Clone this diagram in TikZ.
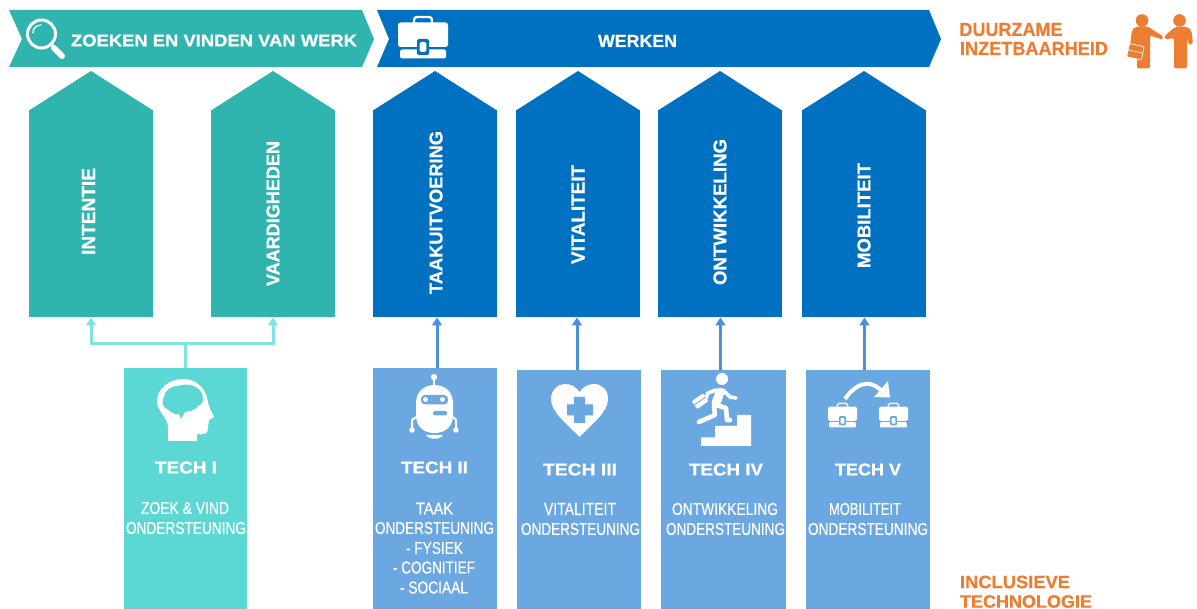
\documentclass[tikz,border=0pt]{standalone}
\usepackage{fontspec}
\setmainfont{Liberation Sans}
\newfontfamily\titlef[FakeBold=0.6]{Liberation Sans Bold}
\newfontfamily\bodyf[FakeBold=0.5]{Liberation Sans}
\usetikzlibrary{arrows.meta,calc}
\definecolor{teal1}{HTML}{2FB4AE}
\definecolor{blue1}{HTML}{0070C0}
\definecolor{teal2}{HTML}{5BD8D4}
\definecolor{blue2}{HTML}{6BA7E0}
\definecolor{tealarrow}{HTML}{7FE3DE}
\definecolor{bluearrow}{HTML}{4A90DC}
\definecolor{oranje}{HTML}{ED7D31}
\tikzset{
  lab/.style={inner sep=0pt,outer sep=0pt,text=white},
  orangelab/.style={inner sep=0pt,outer sep=0pt,text=oranje},
  tealconn/.style={draw=tealarrow,line width=3pt},
  blueconn/.style={draw=bluearrow,line width=3pt},
  uptip/.style={-{Triangle[width=10pt,length=8pt]}}
}
\newcommand{\tl}[7][lab]{\node[#1] (#2) at (#3,#4) {\resizebox{#5pt}{#6pt}{#7}};}
\newcommand{\vl}[5]{\node[lab,rotate=90] (#1) at (#2,#3) {\resizebox{#4pt}{13pt}{\titlef #5}};}
% name, left x, colour
\newcommand{\penta}[3]{%
  \node[rectangle,inner sep=0pt,outer sep=0pt,fill=#3,minimum width=124pt,minimum height=207pt,anchor=north west] (#1) at (#2,110.5) {};
  \fill[#3] (#1.north west) -- ($(#1.north)+(0,39.5pt)$) -- (#1.north east) -- cycle;}
% name, left, top, width, colour
\newcommand{\techbox}[5]{\node[rectangle,inner sep=0pt,outer sep=0pt,fill=#5,minimum width=#4pt,minimum height=609pt-#3pt,anchor=north west] (#1) at (#2,#3) {};}
% centre x, centre y, scale, background
\newcommand{\briefc}[4]{%
  \begin{scope}[shift={(#1,#2)},scale=#3]
    \draw[white,line width=#3*2.4pt,rounded corners=#3*3pt] (-9,-13) -- (-9,-20) -- (9,-20) -- (9,-13);
    \fill[white,rounded corners=#3*2.5pt] (-25,-14.5) rectangle (25,10);
    \fill[white,rounded corners=#3*1.5pt] (-23,12.5) rectangle (23,21.5);
    \fill[#4,rounded corners=#3*2pt] (-6,2) rectangle (6,18);
    \fill[white,rounded corners=#3*1.5pt] (-3.3,5) rectangle (3.3,15);
  \end{scope}}
\begin{document}
\begin{tikzpicture}[x=1pt,y=-1pt]
\useasboundingbox (0,0) rectangle (1197,609);
\fill[white] (0,0) rectangle (1197,609);

% banners
\fill[teal1] (9,10) -- (362,10) -- (374,39) -- (362,67) -- (9,67) -- (22,39) -- cycle;
\fill[blue1] (377,10) -- (929,10) -- (941,39) -- (929,67) -- (377,67) -- (389,39) -- cycle;
\tl{bt1}{214}{40.5}{286}{12}{\titlef ZOEKEN EN VINDEN VAN WERK}
\tl{bt2}{637.5}{41}{79}{12}{\titlef WERKEN}

% side labels
\tl[orangelab]{d1}{1011}{29.5}{103}{13}{\titlef DUURZAME}
\tl[orangelab]{d2}{1034}{48.5}{148}{13}{\titlef INZETBAARHEID}
\tl[orangelab]{i1}{1015}{582}{110}{12.5}{\titlef INCLUSIEVE}
\tl[orangelab]{i2}{1026}{601.5}{132}{12.5}{\titlef TECHNOLOGIE}

% pentagons
\penta{p1}{29}{teal1}
\penta{p2}{211}{teal1}
\penta{p3}{373}{blue1}
\penta{p4}{516}{blue1}
\penta{p5}{658}{blue1}
\penta{p6}{802}{blue1}
\vl{v1}{88.5}{211.5}{87}{INTENTIE}
\vl{v2}{273}{213.5}{145}{VAARDIGHEDEN}
\vl{v3}{436}{212.5}{163}{TAAKUITVOERING}
\vl{v4}{578}{214.5}{99}{VITALITEIT}
\vl{v5}{720}{212}{146}{ONTWIKKELING}
\vl{v6}{864}{215.5}{105}{MOBILITEIT}

% tech boxes
\techbox{t1}{124}{368}{123}{teal2}
\techbox{t2}{373}{368}{124}{blue2}
\techbox{t3}{517}{370}{124}{blue2}
\techbox{t4}{661}{370}{125}{blue2}
\techbox{t5}{806}{370}{124}{blue2}

% connectors
\coordinate (j1) at (185,343.5);
\coordinate (s2) at (437,368);
\coordinate (s3) at (577,370);
\coordinate (s4) at (720.5,370);
\coordinate (s5) at (864.5,370);
\draw[tealconn] (j1 |- t1.north) -- (j1);
\draw[tealconn,uptip] (j1) -| (p1.south);
\draw[tealconn,uptip] (j1) -| (p2.south);
\draw[blueconn,uptip] (s2) -- (s2 |- p3.south);
\draw[blueconn,uptip] (s3) -- (s3 |- p4.south);
\draw[blueconn,uptip] (s4) -- (s4 |- p5.south);
\draw[blueconn,uptip] (s5) -- (s5 |- p6.south);

% tech labels
\tl{h1}{186}{467.5}{62}{12}{\titlef TECH I}
\tl{h2}{434.5}{467.5}{67}{12}{\titlef TECH II}
\tl{h3}{580}{469.5}{74}{12}{\titlef TECH III}
\tl{h4}{726}{469.5}{74}{12}{\titlef TECH IV}
\tl{h5}{868}{469.5}{66}{12}{\titlef TECH V}

\tl{a1}{185}{508}{88}{12}{\bodyf ZOEK \& VIND}
\tl{a2}{186}{528}{120}{12}{\bodyf ONDERSTEUNING}
\tl{b1}{434.5}{508.5}{37}{11.5}{\bodyf TAAK}
\tl{b2}{434.5}{528}{119}{12}{\bodyf ONDERSTEUNING}
\tl{b3}{434.5}{548}{57}{12}{\bodyf - FYSIEK}
\tl{b4}{434}{567.5}{82}{12}{\bodyf - COGNITIEF}
\tl{b5}{434}{587.5}{68}{12}{\bodyf - SOCIAAL}
\tl{c1}{580}{509}{72}{12}{\bodyf VITALITEIT}
\tl{c2}{580.5}{529}{119}{12}{\bodyf ONDERSTEUNING}
\tl{d3}{725}{509}{106}{12}{\bodyf ONTWIKKELING}
\tl{d4}{725.5}{529}{119}{12}{\bodyf ONDERSTEUNING}
\tl{e1}{865}{509}{72}{12}{\bodyf MOBILITEIT}
\tl{e2}{868}{529}{120}{12}{\bodyf ONDERSTEUNING}

% ---- icons ----
% magnifier
\draw[white,line width=3pt] (41.5,34) circle[radius=14];
\draw[white,line width=1.4pt,line cap=round] (33,33) .. controls (33,28) and (36,25.5) .. (41,25);
\draw[white,line width=2.5pt] (51,44) -- (54,47);
\draw[white,line width=6pt,line cap=round] (54,48) -- (62,56);

% briefcases
\briefc{423}{37}{1}{blue1}
\briefc{842.5}{415}{0.58}{blue2}
\briefc{893.5}{415}{0.58}{blue2}

% curved arrow tech V
\draw[white,line width=4pt] (845,399) .. controls (853,387) and (864,381) .. (873,385) .. controls (878,387) and (881,390) .. (883,393);
\fill[white] (888,381) -- (890,397.5) -- (874,397) -- cycle;

% head with brain
\fill[white] (168,441) -- (197,441) -- (197,434) .. controls (203,435) and (208,434) .. (208,429)
  .. controls (208,425) and (209,422) .. (209,420) -- (214,417) .. controls (212,412) and (209,408) .. (208,402)
  .. controls (206,388) and (196,379) .. (183,379) .. controls (168,379) and (157,390) .. (157,401)
  .. controls (157,411) and (168,418) .. (168,427) -- cycle;
\fill[teal2] (164,397) .. controls (165,391) and (170,386) .. (178,386) .. controls (186,383) and (197,385) .. (201,392)
  .. controls (205,398) and (203,405) .. (198,406) .. controls (195,411) and (189,411) .. (185,412)
  -- (181,419) -- (179,414) .. controls (173,415) and (170,411) .. (167,409) .. controls (161,405) and (162,401) .. (164,397) -- cycle;

% robot
\fill[white] (434,377) circle[radius=3.2];
\fill[white] (433,379) rectangle (435,385);
\fill[white] (416,403) .. controls (416,392) and (424,385) .. (434.5,385) .. controls (445,385) and (453,392) .. (453,403)
  -- (453,415) .. controls (453,427) and (445,433) .. (434.5,433) .. controls (424,433) and (416,427) .. (416,415) -- cycle;
\fill[white] (426,435) .. controls (429,440) and (440,440) .. (443,435) -- cycle;
\fill[blue2,rounded corners=4pt] (421,395) rectangle (448,404.5);
\fill[white] (425.5,399.5) circle[radius=2.4];
\fill[white] (442.5,399.5) circle[radius=2.4];
\fill[blue2,rounded corners=1.5pt] (433,411) rectangle (447,415.5);
\draw[white,line width=2pt] (416,417) -- (412,420) -- (412,429);
\draw[white,line width=2pt] (453,417) -- (456,420) -- (456,429);
\fill[white] (412,430) circle[radius=2.8];
\fill[white] (456,430) circle[radius=2.8];

% heart with cross
\fill[white] (579.5,437) .. controls (566,423) and (551,412) .. (551,399) .. controls (551,390) and (558,384) .. (565,384)
  .. controls (571,384) and (576,387) .. (579.5,392) .. controls (583,387) and (588,384) .. (594,384)
  .. controls (602,384) and (608,390) .. (608,399) .. controls (608,412) and (593,423) .. (579.5,437) -- cycle;
\fill[blue2] (574,397) -- (585,397) -- (585,404.5) -- (593,404.5) -- (593,415.5) -- (585,415.5) -- (585,423) -- (574,423) -- (574,415.5) -- (567,415.5) -- (567,404.5) -- (574,404.5) -- cycle;

% stairs and runner
\fill[white] (701,446) -- (751,446) -- (751,415) -- (737,415) -- (737,426) -- (715,426) -- (715,437.5) -- (701,437.5) -- cycle;
\fill[white] (722,379) circle[radius=6];
\draw[white,line width=9pt,line cap=round] (720,392) -- (716,403);
\draw[white,line width=3.6pt,line cap=round,line join=round] (723,390) -- (730,397) -- (736,398);
\draw[white,line width=3.6pt,line cap=round,line join=round] (716,390) -- (708,393) -- (706,398);
\draw[white,line width=4.6pt,line cap=round,line join=round] (716,405) -- (726,408) -- (727,420) -- (730,420);
\draw[white,line width=4.6pt,line cap=round,line join=round] (714,406) -- (715,415) -- (701,421) -- (699,422);
\begin{scope}[shift={(700,401)},rotate=35]
  \fill[white,rounded corners=1pt] (-7,-4.5) rectangle (7,5);
  \draw[blue2,line width=0.8pt] (-7,0) -- (7,0);
\end{scope}

% people
\fill[oranje] (1142,20.5) circle[radius=6.3];
\fill[oranje] (1179.5,20.5) circle[radius=6.3];
\fill[oranje,rounded corners=2pt] (1130,46) -- (1132,30) -- (1136,26.5) -- (1148,26.5) -- (1153,30) -- (1163.5,36.5) -- (1162.5,39.5) -- (1150,35.5)
  -- (1150,68.5) -- (1137,68.5) -- (1137,48) -- cycle;
\fill[oranje,rounded corners=2pt] (1164,36.5) -- (1175,27) -- (1187,26.5) -- (1191.5,31) -- (1193,44) -- (1189,45) -- (1187,38)
  -- (1187,68.5) -- (1174,68.5) -- (1174,38) -- (1165,39.5) -- cycle;
\begin{scope}[shift={(1135.5,51.5)},rotate=-12]
  \draw[oranje,line width=1.3pt] (-3.5,-6) -- (-3.5,-8) -- (3.5,-8) -- (3.5,-6);
  \fill[oranje,draw=white,line width=0.7pt,rounded corners=1pt] (-7.5,-6.5) rectangle (7.5,7);
  \draw[white,line width=0.6pt] (-7.5,0) -- (7.5,0);
\end{scope}
\end{tikzpicture}
\end{document}
